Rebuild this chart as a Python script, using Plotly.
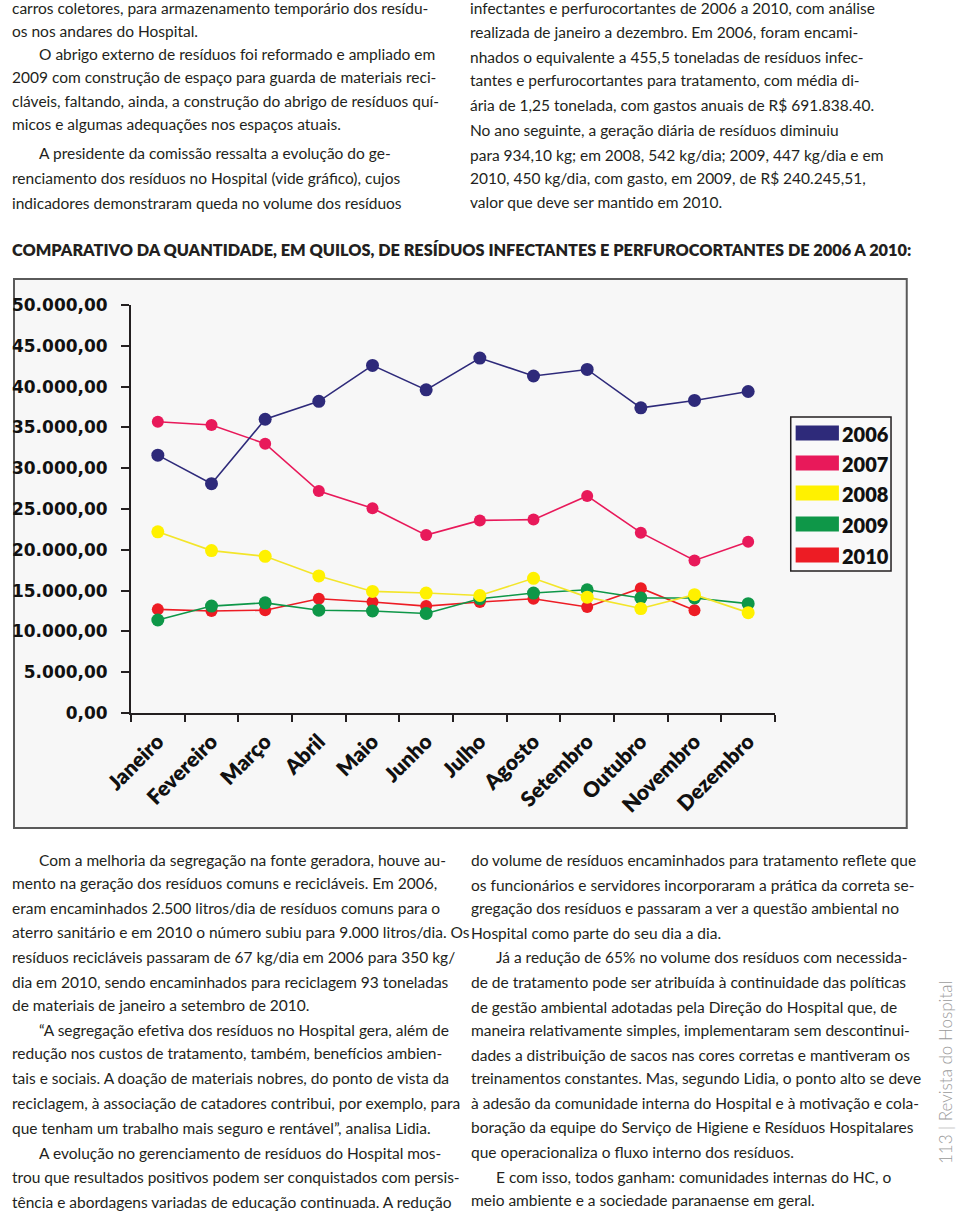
import plotly.graph_objects as go

# ---------------- data ----------------
months = ["Janeiro", "Fevereiro", "Março", "Abril", "Maio", "Junho", "Julho",
          "Agosto", "Setembro", "Outubro", "Novembro", "Dezembro"]
years = ["2006", "2007", "2008", "2009", "2010"]
y2006 = [31600, 28100, 36000, 38200, 42600, 39600, 43500, 41300, 42100, 37400, 38300, 39400]
y2007 = [35700, 35300, 33000, 27200, 25100, 21800, 23600, 23700, 26600, 22100, 18700, 21000]
y2008 = [22200, 19900, 19200, 16800, 14900, 14700, 14400, 16500, 14200, 12800, 14500, 12300]
y2009 = [11400, 13100, 13500, 12600, 12500, 12200, 14000, 14700, 15100, 14100, 14100, 13400]
y2010 = [12700, 12500, 12600, 14000, 13600, 13100, 13600, 14000, 13000, 15300, 12600, None]
series = [y2006, y2007, y2008, y2009, y2010]
colors = ["#2e2a7a", "#e8195a", "#fff100", "#0e9748", "#ed1c24"]
line_colors = ["#2e2a7a", "#e8195a", "#f3e52a", "#0e9748", "#ed1c24"]
marker_sizes = [13, 12, 13, 13, 12]

title_text = ("COMPARATIVO DA QUANTIDADE, EM QUILOS, DE RESÍDUOS INFECTANTES "
              "E PERFUROCORTANTES DE 2006 A 2010:")

top_left = [
    (0, "carros coletores, para armazenamento temporário dos resídu-"),
    (0, "os nos andares do Hospital."),
    (1, "O abrigo externo de resíduos foi reformado e ampliado em"),
    (0, "2009 com construção de espaço para guarda de materiais reci-"),
    (0, "cláveis, faltando, ainda, a construção do abrigo de resíduos quí-"),
    (0, "micos e algumas adequações nos espaços atuais."),
    (1, "A presidente da comissão ressalta a evolução do ge-"),
    (0, "renciamento dos resíduos no Hospital (vide gráfico), cujos"),
    (0, "indicadores demonstraram queda no volume dos resíduos"),
]
top_left_y = [8, 31, 54, 77, 101, 124, 153, 178, 203]

top_right = [
    (0, "infectantes e perfurocortantes de 2006 a 2010, com análise"),
    (0, "realizada de janeiro a dezembro. Em 2006, foram encami-"),
    (0, "nhados o equivalente a 455,5 toneladas de resíduos infec-"),
    (0, "tantes e perfurocortantes para tratamento, com média di-"),
    (0, "ária de 1,25 tonelada, com gastos anuais de R$ 691.838.40."),
    (0, "No ano seguinte, a geração diária de resíduos diminuiu"),
    (0, "para 934,10 kg; em 2008, 542 kg/dia; 2009, 447 kg/dia e em"),
    (0, "2010, 450 kg/dia, com gasto, em 2009, de R$ 240.245,51,"),
    (0, "valor que deve ser mantido em 2010."),
]
top_right_y = [8, 32, 57, 80, 105, 130, 155, 178, 202]

bottom_left = [
    (1, "Com a melhoria da segregação na fonte geradora, houve au-"),
    (0, "mento na geração dos resíduos comuns e recicláveis. Em 2006,"),
    (0, "eram encaminhados 2.500 litros/dia de resíduos comuns para o"),
    (0, "aterro sanitário e em 2010 o número subiu para 9.000 litros/dia. Os"),
    (0, "resíduos recicláveis passaram de 67 kg/dia em 2006 para 350 kg/"),
    (0, "dia em 2010, sendo encaminhados para reciclagem 93 toneladas"),
    (0, "de materiais de janeiro a setembro de 2010."),
    (1, "“A segregação efetiva dos resíduos no Hospital gera, além de"),
    (0, "redução nos custos de tratamento, também, benefícios ambien-"),
    (0, "tais e sociais. A doação de materiais nobres, do ponto de vista da"),
    (0, "reciclagem, à associação de catadores contribui, por exemplo, para"),
    (0, "que tenham um trabalho mais seguro e rentável”, analisa Lidia."),
    (1, "A evolução no gerenciamento de resíduos do Hospital mos-"),
    (0, "trou que resultados positivos podem ser conquistados com persis-"),
    (0, "tência e abordagens variadas de educação continuada. A redução"),
]
bottom_left_y = [860, 883, 908, 932, 957, 982, 1005, 1030, 1053, 1078, 1103, 1128, 1153, 1177, 1202]

bottom_right = [
    (0, "do volume de resíduos encaminhados para tratamento reflete que"),
    (0, "os funcionários e servidores incorporaram a prática da correta se-"),
    (0, "gregação dos resíduos e passaram a ver a questão ambiental no"),
    (0, "Hospital como parte do seu dia a dia."),
    (1, "Já a redução de 65% no volume dos resíduos com necessida-"),
    (0, "de de tratamento pode ser atribuída à continuidade das políticas"),
    (0, "de gestão ambiental adotadas pela Direção do Hospital que, de"),
    (0, "maneira relativamente simples, implementaram sem descontinui-"),
    (0, "dades a distribuição de sacos nas cores corretas e mantiveram os"),
    (0, "treinamentos constantes. Mas, segundo Lidia, o ponto alto se deve"),
    (0, "à adesão da comunidade interna do Hospital e à motivação e cola-"),
    (0, "boração da equipe do Serviço de Higiene e Resíduos Hospitalares"),
    (0, "que operacionaliza o fluxo interno dos resíduos."),
    (1, "E com isso, todos ganham: comunidades internas do HC, o"),
    (0, "meio ambiente e a sociedade paranaense em geral."),
]
bottom_right_y = [860, 885, 908, 933, 957, 982, 1007, 1030, 1055, 1078, 1103, 1127, 1152, 1177, 1200]

side_text = "113 | Revista do Hospital"

# ---------------- layout geometry (pixels) ----------------
W, H = 960, 1213
L, R, T, B = 120, 775, 305, 713
PW, PH = R - L, B - T


def px(x):
    return (x - L) / PW


def py(y):
    return (B - y) / PH


BODY_FAMILY = "Lato, 'Open Sans', sans-serif"
TEXT_FONT = dict(family=BODY_FAMILY, size=15.5, color="#231f20")

fig = go.Figure()

for i in reversed(range(len(years))):
    fig.add_trace(go.Scatter(
        x=months, y=series[i], name=years[i], mode="lines+markers",
        line=dict(color=line_colors[i], width=1.6),
        marker=dict(color=colors[i], size=marker_sizes[i]),
        connectgaps=False, showlegend=False,
    ))

shapes = []
annotations = []

# chart panel background
shapes.append(dict(type="rect", xref="paper", yref="paper", layer="below",
                   x0=px(1), x1=px(909), y0=py(828), y1=py(279),
                   fillcolor="#f7f7f7", line=dict(color="#5a5a5a", width=2)))

# custom legend
shapes.append(dict(type="rect", xref="paper", yref="paper",
                   x0=px(791), x1=px(893), y0=py(571), y1=py(417),
                   fillcolor="#f9f9f9", line=dict(color="#231f20", width=1.5)))
leg_y = [433, 463, 493, 524, 555]
for i, yr in enumerate(years):
    shapes.append(dict(type="rect", xref="paper", yref="paper",
                       x0=px(796), x1=px(840), y0=py(leg_y[i] + 7.5), y1=py(leg_y[i] - 7.5),
                       fillcolor=colors[i], line=dict(width=0)))
    annotations.append(dict(xref="paper", yref="paper", x=px(842), y=py(leg_y[i] + 1),
                            xanchor="left", yanchor="middle", showarrow=False, text=yr,
                            borderpad=0,
                            font=dict(family=BODY_FAMILY, size=20,
                                      color="#111111", weight=800)))

# title
annotations.append(dict(xref="paper", yref="paper", x=px(-2), y=py(249),
                        xanchor="left", yanchor="middle", showarrow=False,
                        text=title_text, borderpad=0,
                        font=dict(family="Lato, sans-serif", size=16.3, weight=800,
                                  color="#231f20")))


def add_block(lines, ys, x_left, indent):
    for (ind, txt), yy in zip(lines, ys):
        annotations.append(dict(xref="paper", yref="paper",
                                x=px(x_left - 2 + (indent if ind else 0)),
                                y=py(yy), xanchor="left", yanchor="middle", showarrow=False,
                                borderpad=0, text=txt, font=TEXT_FONT))


add_block(top_left, top_left_y, 0, 27)
add_block(top_right, top_right_y, 466, 26)
add_block(bottom_left, bottom_left_y, 0, 27)
add_block(bottom_right, bottom_right_y, 467, 25)

annotations.append(dict(xref="paper", yref="paper", x=px(948), y=py(1073),
                        xanchor="center", yanchor="middle", showarrow=False, textangle=-90,
                        text=side_text,
                        font=dict(family=BODY_FAMILY, size=17, color="#9a9a9a",
                                  weight=300)))

fig.update_layout(
    width=W, height=H,
    margin=dict(l=L, r=W - R, t=T, b=H - B, pad=0),
    paper_bgcolor="white", plot_bgcolor="rgba(0,0,0,0)",
    separators=",.",
    showlegend=False,
    shapes=shapes, annotations=annotations,
    xaxis=dict(type="category", range=[-0.5, 11.5], showgrid=False, zeroline=False,
               showline=True, linecolor="#231f20", linewidth=2,
               ticks="outside", ticklen=7, tickwidth=1.5, tickcolor="#231f20",
               tickson="boundaries", tickangle=-45, ticklabelstandoff=6,
               tickfont=dict(family=BODY_FAMILY, size=21, color="#111111",
                             weight=800)),
    yaxis=dict(range=[0, 50000], dtick=5000, tickformat=",.2f", showgrid=False,
               zeroline=False, showline=True, linecolor="#231f20", linewidth=2,
               ticks="outside", ticklen=8, tickwidth=1.5, tickcolor="#231f20",
               ticklabelstandoff=4, ticksuffix="\u00a0",
               tickfont=dict(family="'DejaVu Sans', sans-serif", size=17, color="#111111",
                             weight="bold")),
)

fig.write_html("out.html", config={"displayModeBar": False},
               post_script="document.body.style.margin='0';document.body.style.overflow='hidden';")
